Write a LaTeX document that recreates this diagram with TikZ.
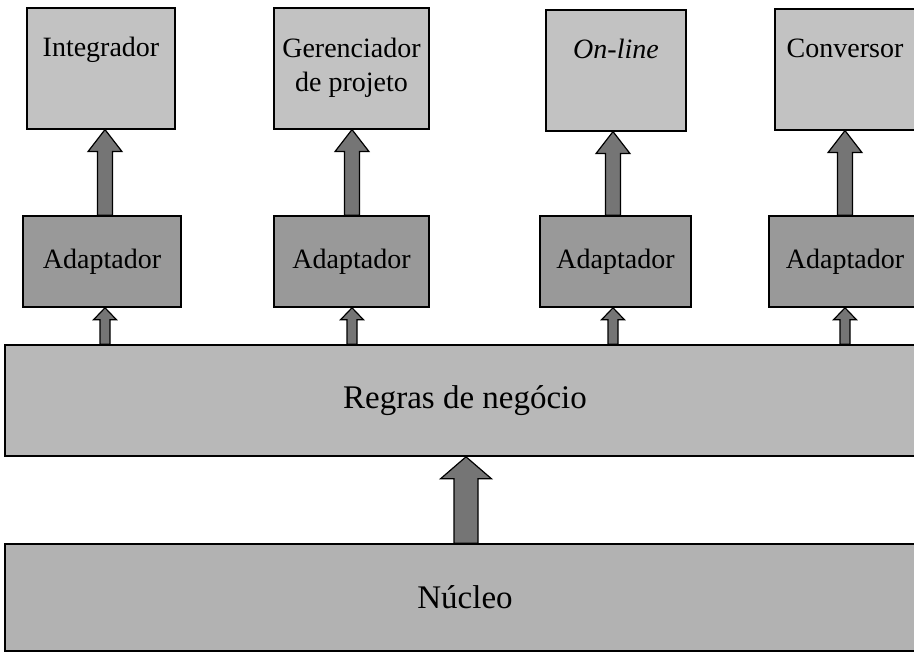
\documentclass[tikz,border=0pt]{standalone}
\usepackage{fontspec}
\setmainfont{Liberation Serif}
\usetikzlibrary{calc}
\definecolor{topfill}{gray}{0.76}
\definecolor{adfill}{gray}{0.60}
\definecolor{regfill}{gray}{0.72}
\definecolor{nucfill}{gray}{0.70}
\definecolor{arrfill}{gray}{0.46}
\newcommand\fatarrow[6]{%
  \filldraw[fatarr] let \p1=(#1 |- #2.north), \p2=(#1 |- #3.south) in
  (\x1-#4,\y1) -- (\x1-#4,\y2-#6) -- (\x1-#5,\y2-#6) -- (\x1,\y2) --
  (\x1+#5,\y2-#6) -- (\x1+#4,\y2-#6) -- (\x1+#4,\y1) -- cycle;}
\begin{document}
\begin{tikzpicture}[x=1pt,y=-1pt,
  box/.style={draw=black, line width=1.6pt, inner sep=0pt, align=center},
  topbox/.style={box, fill=topfill, anchor=north, font=\fontsize{28}{34}\selectfont,
    text height=49pt, text depth=72pt},
  adbox/.style={box, fill=adfill, minimum height=91pt, font=\fontsize{28}{34}\selectfont},
  layer/.style={box, minimum width=920pt, font=\fontsize{33}{40}\selectfont},
  fatarr/.style={draw=black, line width=1.2pt, fill=arrfill, line join=miter}]
\useasboundingbox (0,0) rectangle (914,652);
\clip (0,0) rectangle (914,652);
% top boxes
\node[topbox, minimum width=148pt] (int) at (101,7) {Integrador};
\node[topbox, minimum width=155pt, text height=84pt, text depth=37pt] (ger) at (351.5,7) {Gerenciador\\de projeto};
\node[topbox, minimum width=140pt] (onl) at (616,9) {\textit{On-line}};
\node[topbox, minimum width=140pt] (con) at (845,8) {Conversor};
% adapters
\node[adbox, minimum width=158pt] (ad1) at (102,261.5) {Adaptador};
\node[adbox, minimum width=155pt] (ad2) at (351.5,261.5) {Adaptador};
\node[adbox, minimum width=151pt] (ad3) at (615.5,261.5) {Adaptador};
\node[adbox, minimum width=152pt] (ad4) at (845,261.5) {Adaptador};
% layers
\node[layer, fill=regfill, minimum height=111pt] (reg) at (465,400.5) {Regras de negócio};
\node[layer, fill=nucfill, minimum height=107pt] (nuc) at (465,597.5) {Núcleo};
% arrow axes
\coordinate (x1) at (105,0);
\coordinate (x2) at (352,0);
\coordinate (x3) at (613,0);
\coordinate (x4) at (845,0);
\coordinate (xc) at (466,0);
% big arrows adapter -> top box
\fatarrow{x1}{ad1}{int}{7.5pt}{17pt}{22pt}
\fatarrow{x2}{ad2}{ger}{7.5pt}{17pt}{22pt}
\fatarrow{x3}{ad3}{onl}{7.5pt}{17pt}{22pt}
\fatarrow{x4}{ad4}{con}{7.5pt}{17pt}{22pt}
% small arrows rules -> adapter
\fatarrow{x1}{reg}{ad1}{5pt}{11.5pt}{12pt}
\fatarrow{x2}{reg}{ad2}{5pt}{11.5pt}{12pt}
\fatarrow{x3}{reg}{ad3}{5pt}{11.5pt}{12pt}
\fatarrow{x4}{reg}{ad4}{5pt}{11.5pt}{12pt}
% core -> rules
\fatarrow{xc}{nuc}{reg}{12pt}{25.5pt}{22pt}
\end{tikzpicture}
\end{document}
